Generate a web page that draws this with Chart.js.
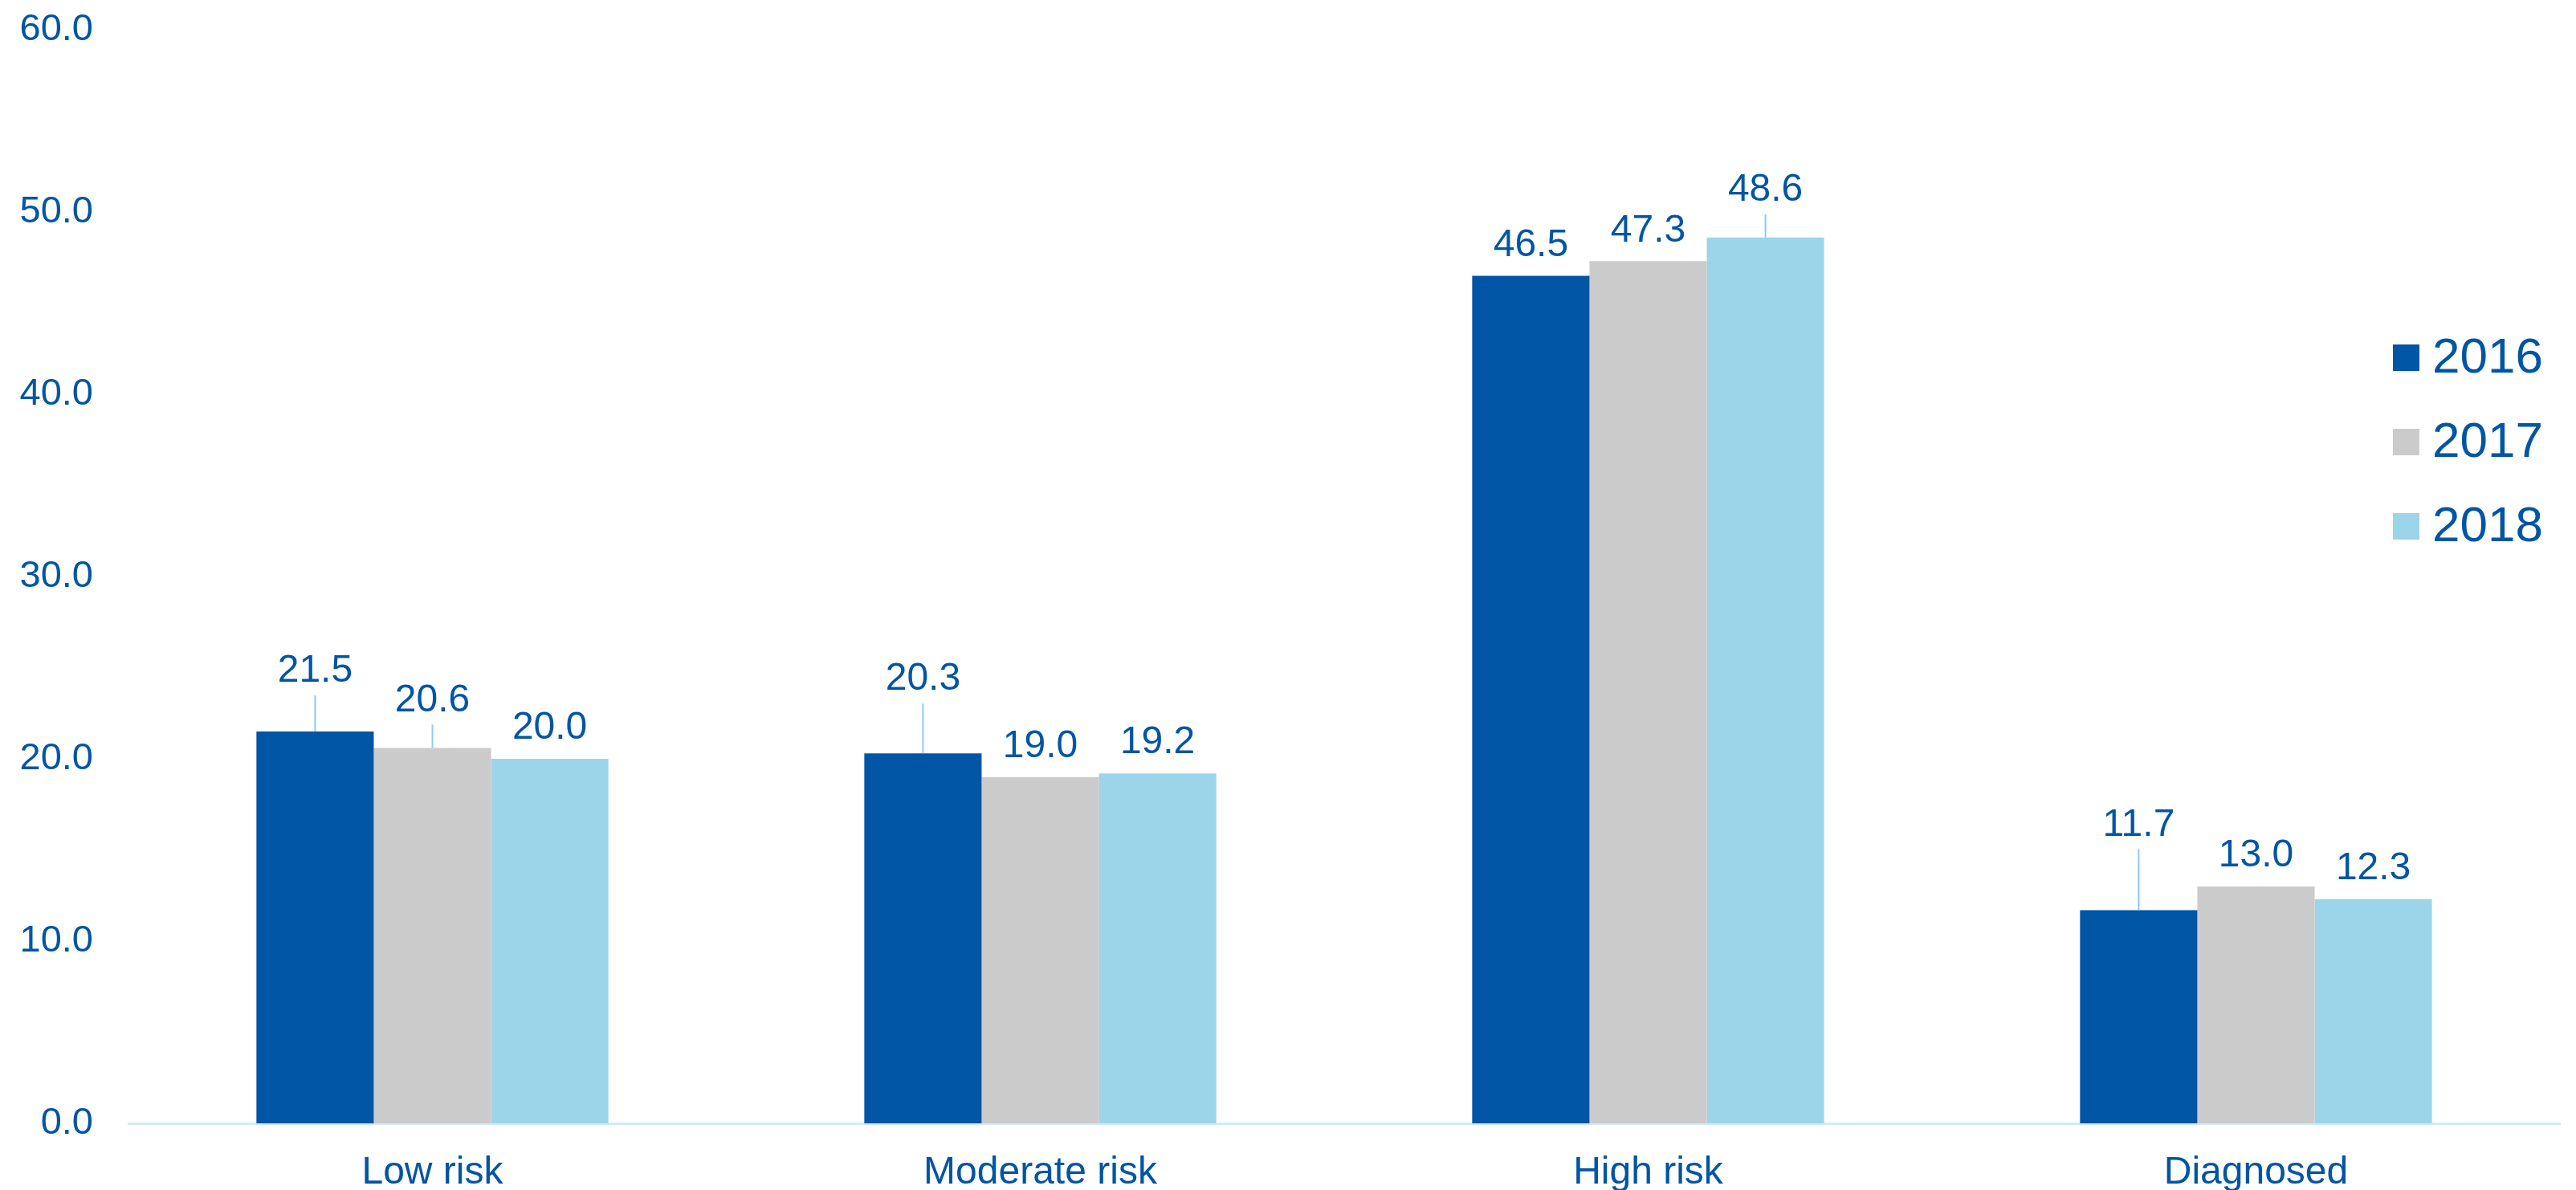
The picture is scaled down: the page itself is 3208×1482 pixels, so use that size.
<!DOCTYPE html>
<html>
<head>
<meta charset="utf-8">
<title>Risk groups 2016-2018</title>
<script src="https://cdn.jsdelivr.net/npm/chart.js@4/dist/chart.umd.min.js"></script>
<style>
  html, body { margin: 0; padding: 0; background: #fff; }
  canvas { display: block; }
</style>
</head>
<body>
<canvas id="chart" width="3208" height="1482"></canvas>
<script>
// categories and values
const categories = ['Low risk', 'Moderate risk', 'High risk', 'Diagnosed'];
const years = ['2016', '2017', '2018'];
const values2016 = [21.5, 20.3, 46.5, 11.7];
const values2017 = [20.6, 19.0, 47.3, 13.0];
const values2018 = [20.0, 19.2, 48.6, 12.3];
const yTicks = [0, 10, 20, 30, 40, 50, 60];

// extra lift (px) of some value labels, these get a leader line
const lift2016 = [37, 54, 0, 68];
const lift2017 = [21, 0, 0, 0];
const lift2018 = [0, 0, 21, 0];

const BLUE = '#0055A4';
const colors = ['#0055A4', '#CBCBCB', '#9CD4E9'];
const FONT = '"Liberation Sans", Arial, sans-serif';

const valueLabels = {
  id: 'valueLabels',
  afterDatasetsDraw(chart) {
    const ctx = chart.ctx;
    const lifts = [lift2016, lift2017, lift2018];
    ctx.save();
    ctx.font = `48px ${FONT}`;
    ctx.fillStyle = BLUE;
    ctx.textAlign = 'center';
    ctx.textBaseline = 'middle';
    chart.data.datasets.forEach((ds, di) => {
      chart.getDatasetMeta(di).data.forEach((bar, i) => {
        const extra = lifts[di][i];
        const cy = bar.y - 38 - extra;
        ctx.fillText(ds.data[i].toFixed(1), bar.x, cy);
        if (extra > 10) {
          ctx.strokeStyle = '#8fc8f2';
          ctx.lineWidth = 2;
          ctx.beginPath();
          ctx.moveTo(bar.x, cy + 30);
          ctx.lineTo(bar.x, bar.y);
          ctx.stroke();
        }
      });
    });
    ctx.restore();
  }
};

// legend sits inside the plot, top right
const sideLegend = {
  id: 'sideLegend',
  afterDraw(chart) {
    const ctx = chart.ctx;
    ctx.save();
    ctx.font = `62px ${FONT}`;
    ctx.textAlign = 'left';
    ctx.textBaseline = 'middle';
    chart.data.datasets.forEach((ds, i) => {
      const cy = 445 + i * 105;
      ctx.fillStyle = ds.backgroundColor;
      ctx.fillRect(2980, cy - 16, 33, 33);
      ctx.fillStyle = BLUE;
      ctx.fillText(ds.label, 3029, cy + 2);
    });
    ctx.restore();
  }
};

new Chart(document.getElementById('chart'), {
  type: 'bar',
  data: {
    labels: categories,
    datasets: [
      { label: years[0], data: values2016, backgroundColor: colors[0] },
      { label: years[1], data: values2017, backgroundColor: colors[1] },
      { label: years[2], data: values2018, backgroundColor: colors[2] },
    ],
  },
  options: {
    responsive: false,
    animation: false,
    layout: { padding: { top: 37, right: 20, left: 0, bottom: 0 } },
    datasets: { bar: { categoryPercentage: 0.579, barPercentage: 1.0 } },
    plugins: { legend: { display: false }, tooltip: { enabled: false } },
    scales: {
      x: {
        grid: { display: false },
        border: { display: true, color: '#d3e9fb', width: 3 },
        ticks: { color: BLUE, font: { family: FONT, size: 48 }, padding: 25 },
        afterFit(scale) { scale.height = 83; },
      },
      y: {
        min: 0,
        max: 60,
        afterBuildTicks(scale) { scale.ticks = yTicks.map((v) => ({ value: v })); },
        grid: { display: false },
        border: { display: false },
        ticks: {
          color: BLUE,
          font: { family: FONT, size: 47 },
          padding: 36,
          callback: (v) => Number(v).toFixed(1),
        },
        afterFit(scale) {
          scale.width = 160;
          scale.paddingTop = 0;
          scale.paddingBottom = 0;
        },
      },
    },
  },
  plugins: [valueLabels, sideLegend],
});
</script>
</body>
</html>
